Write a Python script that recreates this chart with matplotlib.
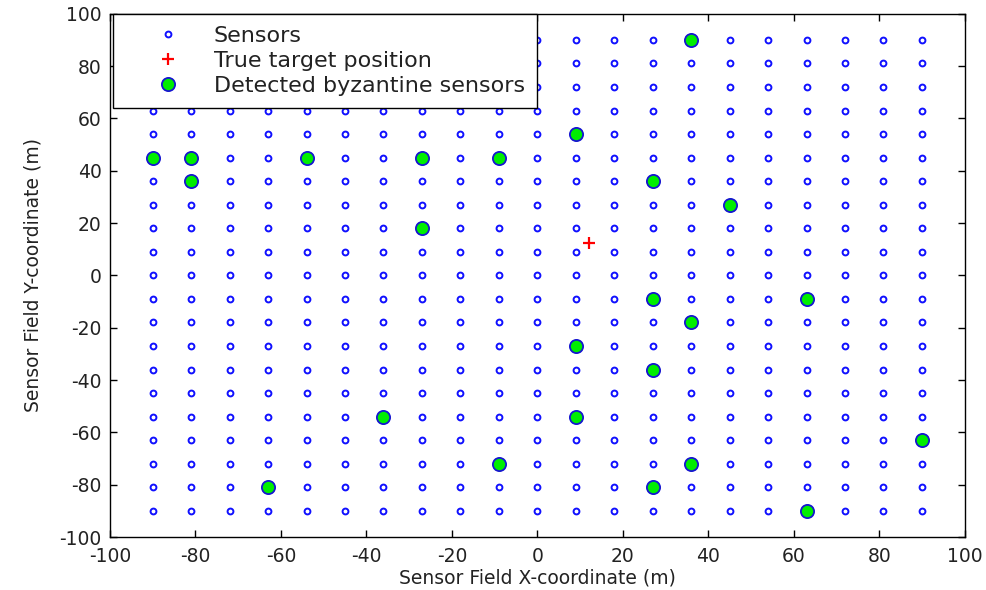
import numpy as np
import matplotlib
matplotlib.use("Agg")
import matplotlib.pyplot as plt

plt.rcParams['font.family'] = ['DejaVu Sans']
plt.rcParams['axes.unicode_minus'] = False

grid_vals = [-90, -81, -72, -63, -54, -45, -36, -27, -18, -9, 0,
             9, 18, 27, 36, 45, 54, 63, 72, 81, 90]

byz_x = [36, 9, -90, -81, -54, -27, -9, -81, 27, 45, -27, 27, 63, 36, 9, 27,
         -36, 9, 90, -9, 36, -63, 27, 63]
byz_y = [90, 54, 45, 45, 45, 45, 45, 36, 36, 27, 18, -9, -9, -18, -27, -36,
         -54, -54, -63, -72, -72, -81, -81, -90]

target_x = [12]
target_y = [12.5]

xticks = [-100, -80, -60, -40, -20, 0, 20, 40, 60, 80, 100]
yticks = [-100, -80, -60, -40, -20, 0, 20, 40, 60, 80, 100]

gx, gy = np.meshgrid(grid_vals, grid_vals)

fig = plt.figure(figsize=(9.87, 5.9), dpi=100)
ax = fig.add_axes([0.1114, 0.0898, 0.866, 0.887])

ax.plot(gx.ravel(), gy.ravel(), 'o', linestyle='none', markersize=4.2,
        markerfacecolor='white', markeredgecolor='#1010ff', markeredgewidth=1.4,
        label='Sensors')
ax.plot(target_x, target_y, '+', linestyle='none', markersize=9,
        markeredgecolor='red', markeredgewidth=1.6, label='True target position')
ax.plot(byz_x, byz_y, 'o', linestyle='none', markersize=9.5,
        markerfacecolor='#00ee00', markeredgecolor='#1515d0', markeredgewidth=1.3,
        label='Detected byzantine sensors')

ax.set_xlim(-100, 100)
ax.set_ylim(-100, 100)
ax.set_xticks(xticks)
ax.set_yticks(yticks)
ax.tick_params(direction='in', top=True, right=True, length=5, width=1,
               labelsize=13.5, labelcolor='#222222')
ax.tick_params(axis='x', pad=7)
ax.tick_params(axis='y', pad=6)
for s in ax.spines.values():
    s.set_linewidth(1.0)
ax.set_xlabel('Sensor Field X-coordinate (m)', fontsize=13.5, labelpad=2,
              color='#222222')
ax.set_ylabel('Sensor Field Y-coordinate (m)', fontsize=13.5, labelpad=12,
              color='#222222')

leg = ax.legend(loc='upper left', bbox_to_anchor=(0.003, 1.0), fontsize=16,
                frameon=True, fancybox=False, framealpha=1, edgecolor='black',
                borderaxespad=0, handlelength=3.85, labelspacing=0.22,
                borderpad=0.55, handletextpad=0.15, numpoints=1)
leg.get_frame().set_linewidth(1.0)
for t in leg.get_texts():
    t.set_color('#222222')

fig.savefig('out.png', dpi=100)
